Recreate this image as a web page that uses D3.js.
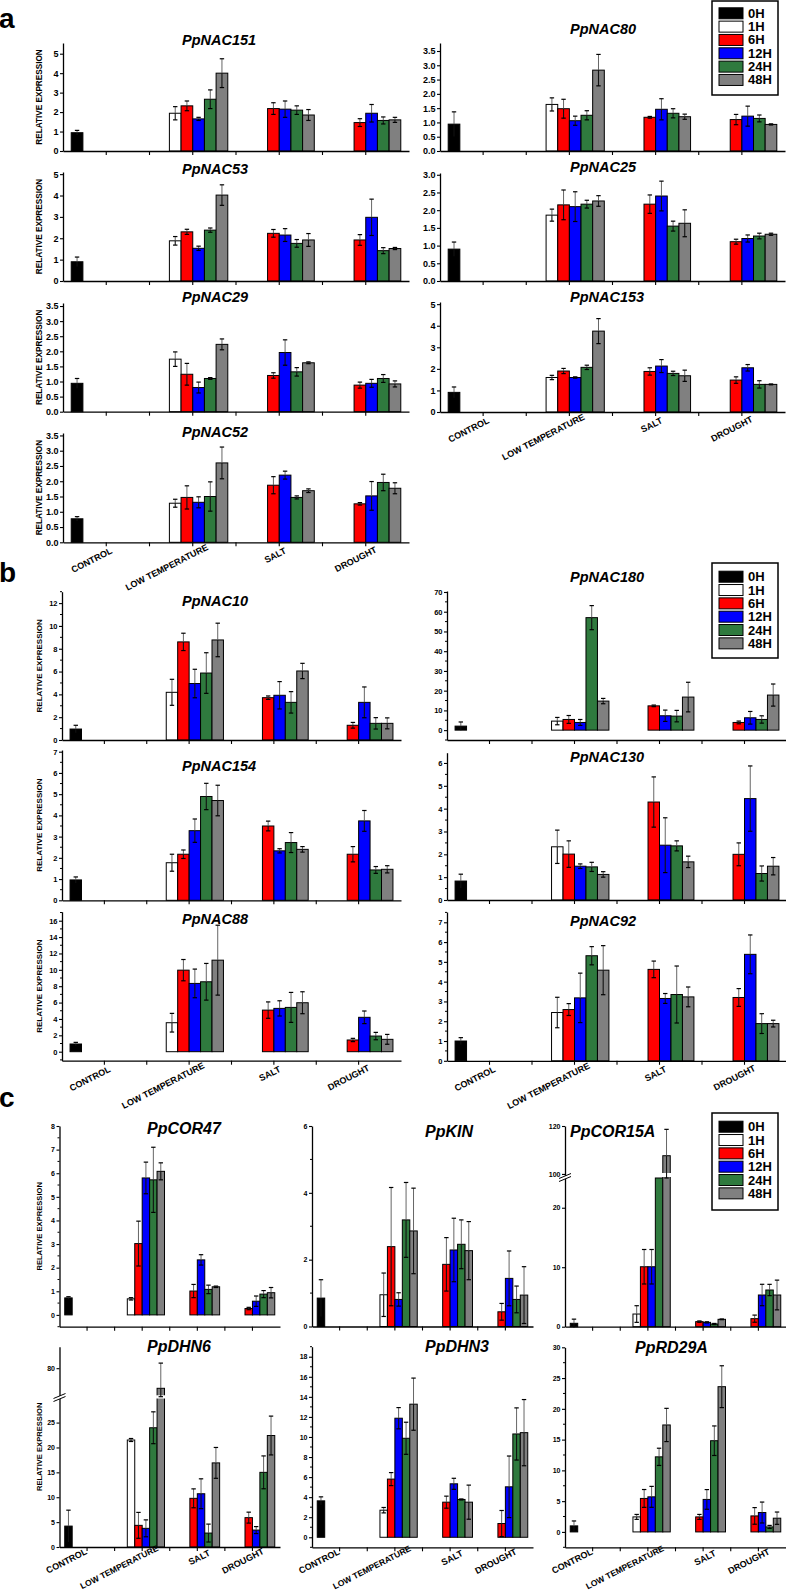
<!DOCTYPE html>
<html><head><meta charset="utf-8">
<script src="https://cdn.jsdelivr.net/npm/d3@7"></script>
<style>
body{margin:0;background:#fff}
svg{display:block}
text{font-family:"Liberation Sans",Arial,Helvetica,sans-serif;font-weight:bold}
</style>
</head><body>
<svg id="chart" width="786" height="1591"></svg>
<script>
// ---------------- DATA ----------------
const categories = ["CONTROL", "LOW TEMPERATURE", "SALT", "DROUGHT"];
const timepoints = ["0H", "1H", "6H", "12H", "24H", "48H"];
// each value slot: which category / which time point
const barCategory = [0, 1, 1, 1, 1, 1, 2, 2, 2, 2, 3, 3, 3, 3];
const barTime     = [0, 1, 2, 3, 4, 5, 2, 3, 4, 5, 2, 3, 4, 5];

const PpNAC151_mean = [0.94, 1.94, 2.32, 1.65, 2.66, 4.0, 2.18, 2.15, 2.1, 1.85, 1.46, 1.94, 1.57, 1.6];
const PpNAC151_err  = [0.12, 0.34, 0.25, 0.08, 0.48, 0.74, 0.3, 0.42, 0.22, 0.28, 0.2, 0.45, 0.18, 0.13];
const PpNAC53_mean  = [0.9, 1.88, 2.3, 1.53, 2.38, 4.02, 2.23, 2.15, 1.76, 1.92, 1.92, 2.98, 1.42, 1.52];
const PpNAC53_err   = [0.22, 0.2, 0.12, 0.1, 0.1, 0.48, 0.18, 0.3, 0.18, 0.3, 0.25, 0.85, 0.14, 0.05];
const PpNAC29_mean  = [0.94, 1.74, 1.24, 0.8, 1.1, 2.23, 1.2, 1.96, 1.32, 1.62, 0.88, 0.94, 1.1, 0.92];
const PpNAC29_err   = [0.16, 0.24, 0.36, 0.18, 0.03, 0.18, 0.09, 0.42, 0.14, 0.03, 0.1, 0.13, 0.13, 0.1];
const PpNAC52_mean  = [0.77, 1.28, 1.47, 1.31, 1.5, 2.6, 1.87, 2.2, 1.47, 1.69, 1.26, 1.52, 1.96, 1.77];
const PpNAC52_err   = [0.07, 0.13, 0.38, 0.18, 0.48, 0.52, 0.28, 0.13, 0.05, 0.06, 0.04, 0.47, 0.27, 0.18];
const PpNAC80_mean  = [0.94, 1.63, 1.48, 1.06, 1.25, 2.83, 1.18, 1.46, 1.32, 1.2, 1.1, 1.22, 1.14, 0.93];
const PpNAC80_err   = [0.43, 0.23, 0.33, 0.16, 0.16, 0.55, 0.03, 0.37, 0.16, 0.09, 0.18, 0.35, 0.12, 0.02];
const PpNAC25_mean  = [0.9, 1.86, 2.15, 2.1, 2.17, 2.26, 2.17, 2.4, 1.55, 1.63, 1.11, 1.2, 1.27, 1.32];
const PpNAC25_err   = [0.2, 0.17, 0.42, 0.42, 0.11, 0.15, 0.26, 0.42, 0.14, 0.38, 0.07, 0.1, 0.08, 0.03];
const PpNAC153_mean = [0.91, 1.6, 1.9, 1.6, 2.07, 3.75, 1.88, 2.13, 1.79, 1.68, 1.48, 2.05, 1.28, 1.28];
const PpNAC153_err  = [0.25, 0.1, 0.12, 0.03, 0.1, 0.58, 0.17, 0.3, 0.1, 0.26, 0.15, 0.15, 0.17, 0.02];

const PpNAC10_mean  = [0.96, 4.18, 8.6, 4.95, 5.87, 8.77, 3.71, 3.92, 3.3, 6.05, 1.29, 3.3, 1.46, 1.46];
const PpNAC10_err   = [0.33, 1.14, 0.76, 1.25, 1.78, 1.47, 0.15, 1.2, 0.94, 0.67, 0.25, 1.35, 0.5, 0.48];
const PpNAC154_mean = [0.96, 1.77, 2.17, 3.28, 4.89, 4.7, 3.5, 2.33, 2.72, 2.4, 2.17, 3.74, 1.43, 1.46];
const PpNAC154_err  = [0.14, 0.4, 0.2, 0.55, 0.62, 0.72, 0.23, 0.1, 0.47, 0.13, 0.36, 0.49, 0.16, 0.17];
const PpNAC88_mean  = [0.94, 3.54, 9.96, 8.34, 8.54, 11.18, 5.08, 5.29, 5.41, 5.98, 1.43, 4.2, 1.91, 1.51];
const PpNAC88_err   = [0.2, 1.14, 1.3, 1.75, 2.24, 4.27, 1.0, 0.93, 1.83, 1.34, 0.2, 0.77, 0.45, 0.6];
const PpNAC180_mean = [2.03, 4.57, 5.41, 3.89, 57.0, 14.72, 12.3, 7.28, 7.1, 16.75, 3.89, 6.26, 5.41, 17.77];
const PpNAC180_err  = [2.1, 1.86, 2.0, 1.5, 6.1, 1.35, 0.4, 2.87, 2.9, 7.5, 0.7, 3.2, 1.86, 5.6];
const PpNAC130_mean = [0.83, 2.33, 2.01, 1.48, 1.45, 1.12, 4.29, 2.4, 2.37, 1.67, 2.0, 4.44, 1.16, 1.48];
const PpNAC130_err  = [0.3, 0.73, 0.58, 0.1, 0.2, 0.12, 1.1, 1.2, 0.22, 0.25, 0.5, 1.43, 0.33, 0.38];
const PpNAC92_mean  = [1.0, 2.44, 2.59, 3.18, 5.31, 4.58, 4.62, 3.15, 3.35, 3.23, 3.2, 5.38, 1.88, 1.88];
const PpNAC92_err   = [0.17, 0.77, 0.3, 1.25, 0.46, 1.24, 0.42, 0.25, 1.44, 0.5, 0.45, 0.98, 0.5, 0.17];

const PpCOR47_mean  = [0.72, 0.68, 3.02, 5.8, 5.72, 6.08, 1.01, 2.33, 1.08, 1.19, 0.27, 0.58, 0.88, 0.94];
const PpCOR47_err   = [0.05, 0.05, 0.95, 0.67, 1.38, 0.36, 0.28, 0.22, 0.18, 0.03, 0.05, 0.22, 0.15, 0.22];
const PpKIN_mean    = [0.85, 0.95, 2.39, 0.81, 3.19, 2.86, 1.86, 2.29, 2.46, 2.27, 0.44, 1.44, 0.81, 0.94];
const PpKIN_err     = [0.55, 0.65, 1.77, 0.2, 1.12, 1.28, 0.8, 0.95, 0.73, 0.87, 0.25, 0.82, 0.4, 0.85];
const PpCOR15A_mean = [0.57, 2.13, 10.08, 10.08, 98.3, 107.6, 0.85, 0.73, 0.45, 1.24, 1.35, 5.33, 6.17, 5.33];
const PpCOR15A_err  = [0.7, 1.4, 2.9, 2.9, 0, 11, 0.12, 0.1, 0.1, 0.06, 0.6, 1.8, 0.95, 2.5];
const PpDHN6_mean   = [4.2, 21.5, 4.35, 3.75, 23.96, 69.7, 9.78, 10.7, 2.8, 16.9, 5.9, 3.4, 15.0, 22.4];
const PpDHN6_err    = [3.2, 0.3, 2.6, 1.7, 3.2, 12.9, 1.9, 3.0, 1.8, 3.1, 1.1, 0.7, 3.3, 3.9];
const PpDHN3_mean   = [3.63, 2.7, 5.8, 11.87, 9.87, 13.27, 3.5, 5.33, 3.77, 3.5, 1.37, 5.03, 10.3, 10.43];
const PpDHN3_err    = [0.4, 0.27, 0.65, 1.06, 1.6, 2.6, 0.6, 0.55, 0.05, 1.7, 1.3, 3.07, 2.6, 3.3];
const PpRD29A_mean  = [0.98, 2.44, 5.44, 5.7, 12.2, 17.38, 2.44, 5.28, 14.82, 23.6, 2.6, 3.15, 0.81, 2.23];
const PpRD29A_err   = [0.8, 0.4, 1.45, 1.7, 1.4, 2.7, 0.4, 1.6, 2.4, 3.4, 1.35, 1.7, 0.25, 1.0];

// tick labels
const yTicks_5    = [0, 1, 2, 3, 4, 5];
const yTicks_35   = [0, 0.5, 1.0, 1.5, 2.0, 2.5, 3.0, 3.5];
const yTicks_30   = [0, 0.5, 1.0, 1.5, 2.0, 2.5, 3.0];
const yTicks_12   = [0, 2, 4, 6, 8, 10, 12];
const yTicks_7    = [0, 1, 2, 3, 4, 5, 6, 7];
const yTicks_16   = [0, 2, 4, 6, 8, 10, 12, 14, 16];
const yTicks_70   = [0, 10, 20, 30, 40, 50, 60, 70];
const yTicks_6    = [0, 1, 2, 3, 4, 5, 6];
const yTicks_8    = [0, 1, 2, 3, 4, 5, 6, 7, 8];
const yTicks_KIN  = [0, 2, 4, 6];
const yTicks_COR15A_low = [0, 10, 20];
const yTicks_COR15A_up  = [100, 120];
const yTicks_DHN6_low   = [0, 5, 10, 15, 20, 25];
const yTicks_DHN6_up    = [80];
const yTicks_18   = [0, 2, 4, 6, 8, 10, 12, 14, 16, 18];
const yTicks_RD   = [0, 5, 10, 15, 20, 25, 30];

// ---------------- STYLE / LAYOUT ----------------
const seriesColors = ["#000000", "#ffffff", "#ff0000", "#0000ff", "#2f7a3e", "#808080"];
const yLabelText = "RELATIVE EXPRESSION";
const xlabOff = {
  ab: [[-14.5, 18], [-26, 25], [-4, 13], [-10, 17]],
  c:  [[-20.5, 14], [-23, 20], [2, 10.5], [-9.5, 14]]
};
const xlabSize = {ab: [9, 9, 9, 9], c: [9, 8.5, 9, 9]};

const layout = [
  // panel a
  {gene:"PpNAC151", mean:PpNAC151_mean, err:PpNAC151_err, yt:yTicks_5,  fmt:"d",   x0:63, x1:409, yr:[151,43],   dom:[0,5.55], minor:0, tx:182, ty:45,    tsz:14.5, fsz:9, ylab:8.2},
  {gene:"PpNAC53",  mean:PpNAC53_mean,  err:PpNAC53_err,  yt:yTicks_5,  fmt:"d",   x0:63, x1:409, yr:[281,172],  dom:[0,5.1],  minor:0, tx:182, ty:173.5, tsz:14.5, fsz:9, ylab:8.2},
  {gene:"PpNAC29",  mean:PpNAC29_mean,  err:PpNAC29_err,  yt:yTicks_35, fmt:".1f", x0:63, x1:409, yr:[411.7,303],dom:[0,3.6],  minor:0, tx:182, ty:302,   tsz:14.5, fsz:9, ylab:8.2},
  {gene:"PpNAC52",  mean:PpNAC52_mean,  err:PpNAC52_err,  yt:yTicks_35, fmt:".1f", x0:63, x1:409, yr:[542.3,433],dom:[0,3.58], minor:0, tx:182, ty:437,   tsz:14.5, fsz:9, ylab:8.2, xlab:"ab"},
  {gene:"PpNAC80",  mean:PpNAC80_mean,  err:PpNAC80_err,  yt:yTicks_35, fmt:".1f", x0:440, x1:785, yr:[151,43],  dom:[0,3.78], minor:0, tx:570, ty:34,    tsz:14.5, fsz:9},
  {gene:"PpNAC25",  mean:PpNAC25_mean,  err:PpNAC25_err,  yt:yTicks_30, fmt:".1f", x0:440, x1:785, yr:[281,173], dom:[0,3.05], minor:0, tx:570, ty:172,   tsz:14.5, fsz:9},
  {gene:"PpNAC153", mean:PpNAC153_mean, err:PpNAC153_err, yt:yTicks_5,  fmt:"d",   x0:440, x1:785, yr:[412,302], dom:[0,5.1],  minor:0, tx:570, ty:302,   tsz:14.5, fsz:9, xlab:"ab"},
  // panel b
  {gene:"PpNAC10",  mean:PpNAC10_mean,  err:PpNAC10_err,  yt:yTicks_12, fmt:"d", x0:62, x1:401, yr:[740,591.7],   dom:[0,13],      minor:1,   tx:182, ty:605.5, tsz:14.5, fsz:7.5, ylab:8},
  {gene:"PpNAC154", mean:PpNAC154_mean, err:PpNAC154_err, yt:yTicks_7,  fmt:"d", x0:62, x1:401, yr:[900.3,750],   dom:[0,7.08],    minor:0.5, tx:182, ty:770.5, tsz:14.5, fsz:7.5, ylab:8},
  {gene:"PpNAC88",  mean:PpNAC88_mean,  err:PpNAC88_err,  yt:yTicks_16, fmt:"d", x0:62, x1:401, yr:[1060.7,911.7],dom:[-1.1,17.1], minor:1,   tx:182, ty:924,   tsz:14.5, fsz:7.5, ylab:8, xlab:"ab"},
  {gene:"PpNAC180", mean:PpNAC180_mean, err:PpNAC180_err, yt:yTicks_70, fmt:"d", x0:447, x1:787, yr:[740,591],    dom:[-5,70.5],   minor:5,   tx:570, ty:582,   tsz:14.5, fsz:7.5},
  {gene:"PpNAC130", mean:PpNAC130_mean, err:PpNAC130_err, yt:yTicks_6,  fmt:"d", x0:447, x1:787, yr:[900,752.7],  dom:[0,6.45],    minor:0.5, tx:570, ty:762,   tsz:14.5, fsz:7.5},
  {gene:"PpNAC92",  mean:PpNAC92_mean,  err:PpNAC92_err,  yt:yTicks_7,  fmt:"d", x0:447, x1:787, yr:[1060.8,912], dom:[0,7.52],    minor:0.5, tx:570, ty:925.5, tsz:14.5, fsz:7.5, xlab:"ab"},
  // panel c
  {gene:"PpCOR47",  mean:PpCOR47_mean,  err:PpCOR47_err,  yt:yTicks_8,   fmt:"d", x0:59.5, x1:280, yr:[1326.7,1126], dom:[-0.5,8], minor:0.5, tx:147, ty:1134, tsz:16, fsz:7, ylab:7.6},
  {gene:"PpKIN",    mean:PpKIN_mean,    err:PpKIN_err,    yt:yTicks_KIN, fmt:"d", x0:312, x1:533,  yr:[1326.5,1126], dom:[0,6],    minor:1,   tx:425, ty:1137, tsz:16, fsz:7},
  {gene:"PpCOR15A", mean:PpCOR15A_mean, err:PpCOR15A_err, fmt:"d", x0:565, x1:786, tx:570, ty:1137, tsz:16, fsz:7,
    brk:{lowDom:[0,25], lowRange:[1326.7,1178], upDom:[98.3,120], upRange:[1178,1126], lowTicks:yTicks_COR15A_low, upTicks:yTicks_COR15A_up, gap:[1173,1177], mark:1177}},
  {gene:"PpDHN6",   mean:PpDHN6_mean,   err:PpDHN6_err,   fmt:"d", x0:59.5, x1:280, tx:147, ty:1352, tsz:16, fsz:7, ylab:7.6, xlab:"c",
    brk:{lowDom:[0,30.2], lowRange:[1547,1396.7], upDom:[65.4,91], upRange:[1396.7,1346.7], lowTicks:yTicks_DHN6_low, upTicks:yTicks_DHN6_up, gap:[1395.3,1398.5], mark:1397}},
  {gene:"PpDHN3",   mean:PpDHN3_mean,   err:PpDHN3_err,   yt:yTicks_18, fmt:"d", x0:312, x1:533, yr:[1547.3,1346.7], dom:[-1,19],    minor:1,   tx:425, ty:1352, tsz:16, fsz:7, xlab:"c"},
  {gene:"PpRD29A",  mean:PpRD29A_mean,  err:PpRD29A_err,  yt:yTicks_RD, fmt:"d", x0:565, x1:786, yr:[1547.3,1347.3], dom:[-2.5,30], minor:2.5, tx:635, ty:1353, tsz:16, fsz:7, xlab:"c"}
];

const legends = [
  {x:712, y:1,    w:66, h:94, first:13.3},
  {x:712, y:563,  w:66, h:95, first:576.7},
  {x:712, y:1113, w:66, h:97, first:1126.7}
];
const panelLetters = [{t:"a", x:-1, y:28}, {t:"b", x:-1, y:582}, {t:"c", x:-1, y:1107}];

// ---------------- DRAW ----------------
const svg = d3.select("#chart");

function makeY(p) {
  if (p.brk) {
    const lo = d3.scaleLinear().domain(p.brk.lowDom).range(p.brk.lowRange);
    const up = d3.scaleLinear().domain(p.brk.upDom).range(p.brk.upRange);
    const f = v => v >= p.brk.upDom[0] ? up(v) : lo(Math.min(v, p.brk.lowDom[1]));
    f.lo = lo; f.up = up;
    return f;
  }
  const s = d3.scaleLinear().domain(p.dom).range(p.yr);
  const f = v => s(v);
  f.s = s;
  return f;
}

function styleAxisText(sel, size) {
  sel.selectAll("text").attr("font-size", size).attr("font-weight", "bold")
    .attr("font-family", '"Liberation Sans",Arial,sans-serif').attr("fill", "#000");
}

function drawPanel(p) {
  const g = svg.append("g").attr("class", "panel");
  const x = d3.scaleBand().domain(categories).range([p.x0, p.x1]).paddingInner(0.19).paddingOuter(0.095);
  const xi = d3.scaleBand().domain(timepoints).range([0, x.bandwidth()]);
  const y = makeY(p);
  const base = y(0);
  const bars = p.mean.map((v, i) => ({
    v, e: p.err[i], c: barTime[i],
    x: x(categories[barCategory[i]]) + xi(timepoints[barTime[i]]),
    w: xi.bandwidth()
  }));

  g.selectAll("rect.bar").data(bars).join("rect").attr("class", "bar")
    .attr("x", d => d.x).attr("y", d => y(d.v)).attr("width", d => d.w)
    .attr("height", d => base - y(d.v))
    .attr("fill", d => seriesColors[d.c]).attr("stroke", "#000").attr("stroke-width", 1);

  if (p.brk) {
    g.selectAll("rect.gap").data(bars.filter(d => d.v > p.brk.upDom[0] + 1)).join("rect")
      .attr("class", "gap").attr("x", d => d.x - 1).attr("width", d => d.w + 2)
      .attr("y", p.brk.gap[0]).attr("height", p.brk.gap[1] - p.brk.gap[0]).attr("fill", "#fff");
  }

  // error bars
  const eb = bars.filter(d => d.e > 0);
  const cx = d => d.x + d.w / 2;
  g.selectAll("line.eup").data(eb).join("line").attr("class", "eup")
    .attr("x1", cx).attr("x2", cx).attr("y1", d => y(d.v)).attr("y2", d => y(d.v + d.e))
    .attr("stroke", "#555").attr("stroke-width", 0.9);
  g.selectAll("line.edn").data(eb).join("line").attr("class", "edn")
    .attr("x1", cx).attr("x2", cx).attr("y1", d => y(d.v)).attr("y2", d => y(d.v - d.e))
    .attr("stroke", "#111").attr("stroke-width", 1.1);
  g.selectAll("line.ecap1").data(eb).join("line").attr("class", "ecap1")
    .attr("x1", d => cx(d) - 2.2).attr("x2", d => cx(d) + 2.2)
    .attr("y1", d => y(d.v + d.e)).attr("y2", d => y(d.v + d.e))
    .attr("stroke", "#000").attr("stroke-width", 1.2);
  g.selectAll("line.ecap2").data(eb.filter(d => d.c !== 0)).join("line").attr("class", "ecap2")
    .attr("x1", d => cx(d) - 2.2).attr("x2", d => cx(d) + 2.2)
    .attr("y1", d => y(d.v - d.e)).attr("y2", d => y(d.v - d.e))
    .attr("stroke", "#000").attr("stroke-width", 1.2);

  // x axis
  const axY = p.brk ? p.brk.lowRange[0] : p.yr[0];
  const xa = g.append("g").attr("transform", `translate(0,${axY})`)
    .call(d3.axisBottom(x).tickSize(4).tickSizeOuter(0).tickFormat(""));
  xa.select(".domain").attr("stroke-width", 1.3);
  xa.selectAll(".tick line").attr("stroke-width", 1.1);
  const step = x.step();
  g.selectAll("line.xminor").data([1, 2, 3]).join("line").attr("class", "xminor")
    .attr("x1", k => p.x0 + k * step).attr("x2", k => p.x0 + k * step)
    .attr("y1", axY).attr("y2", axY + 4).attr("stroke", "#000").attr("stroke-width", 1.1);

  // y axis
  const fmt = d3.format(p.fmt);
  if (!p.brk) {
    const ya = g.append("g").attr("transform", `translate(${p.x0},0)`)
      .call(d3.axisLeft(y.s).tickValues(p.yt).tickFormat(fmt).tickSize(3).tickSizeOuter(0).tickPadding(1.5));
    ya.select(".domain").attr("stroke-width", 1.3);
    ya.selectAll(".tick line").attr("stroke-width", 1.1);
    styleAxisText(ya, p.fsz);
    if (p.minor) {
      const m = p.minor;
      const mt = d3.range(Math.ceil(p.dom[0] / m) * m, p.dom[1] + 1e-9, m)
        .filter(v => !p.yt.some(t => Math.abs(t - v) < 1e-6));
      g.selectAll("line.yminor").data(mt).join("line").attr("class", "yminor")
        .attr("x1", p.x0 - 2).attr("x2", p.x0).attr("y1", d => y(d)).attr("y2", d => y(d))
        .attr("stroke", "#000").attr("stroke-width", 1);
    }
  } else {
    const b = p.brk;
    [[y.lo, b.lowTicks], [y.up, b.upTicks]].forEach(([s, tv]) => {
      const ya = g.append("g").attr("transform", `translate(${p.x0},0)`)
        .call(d3.axisLeft(s).tickValues(tv).tickFormat(fmt).tickSize(3).tickSizeOuter(0).tickPadding(1.5));
      ya.select(".domain").attr("stroke-width", 1.3);
      ya.selectAll(".tick line").attr("stroke-width", 1.1);
      styleAxisText(ya, p.fsz);
    });
    // break marker
    const bx = p.x0, by = b.mark;
    g.append("path").attr("d", `M${bx - 6},${by + 1.5} L${bx + 6},${by - 3.5} L${bx + 6},${by - 0.5} L${bx - 6},${by + 4.5} Z`)
      .attr("fill", "#fff");
    g.append("line").attr("x1", bx - 6).attr("y1", by + 1.5).attr("x2", bx + 6).attr("y2", by - 3.5)
      .attr("stroke", "#000").attr("stroke-width", 1);
    g.append("line").attr("x1", bx - 6).attr("y1", by + 4.5).attr("x2", bx + 6).attr("y2", by - 0.5)
      .attr("stroke", "#000").attr("stroke-width", 1);
  }

  // title
  g.append("text").attr("x", p.tx).attr("y", p.ty).attr("font-size", p.tsz)
    .attr("font-style", "italic").attr("font-weight", "bold").text(p.gene);

  // y label
  if (p.ylab) {
    const top = p.brk ? p.brk.upRange[1] : p.yr[1];
    const bot = p.brk ? p.brk.lowRange[0] : p.yr[0];
    g.append("text").attr("transform", `translate(39,${(top + bot) / 2}) rotate(-90)`)
      .attr("text-anchor", "middle").attr("dominant-baseline", "central")
      .attr("font-size", p.ylab).text(yLabelText);
  }

  // x labels
  if (p.xlab) {
    const off = xlabOff[p.xlab], sz = xlabSize[p.xlab];
    categories.forEach((c, i) => {
      const tc = x(c) + x.bandwidth() / 2;
      g.append("text").attr("text-anchor", "middle").attr("dominant-baseline", "central")
        .attr("font-size", sz[i])
        .attr("transform", `translate(${tc + off[i][0]},${axY + off[i][1]}) rotate(-27)`)
        .text(c);
    });
  }
}

layout.forEach(drawPanel);

// legends
legends.forEach(L => {
  const g = svg.append("g");
  g.append("rect").attr("x", L.x).attr("y", L.y).attr("width", L.w).attr("height", L.h)
    .attr("fill", "#fff").attr("stroke", "#000").attr("stroke-width", 1.5);
  const rowH = 13.33;
  g.selectAll("rect.sw").data(timepoints).join("rect").attr("class", "sw")
    .attr("x", L.x + 7).attr("y", (d, i) => L.first + i * rowH - 5.5)
    .attr("width", 24).attr("height", 11)
    .attr("fill", (d, i) => seriesColors[i]).attr("stroke", "#000").attr("stroke-width", 1);
  g.selectAll("text.lt").data(timepoints).join("text").attr("class", "lt")
    .attr("x", L.x + 36).attr("y", (d, i) => L.first + i * rowH)
    .attr("dominant-baseline", "central").attr("font-size", 13).text(d => d);
});

// panel letters
svg.selectAll("text.letter").data(panelLetters).join("text").attr("class", "letter")
  .attr("x", d => d.x).attr("y", d => d.y).attr("font-size", 28).text(d => d.t);
</script>
</body></html>
